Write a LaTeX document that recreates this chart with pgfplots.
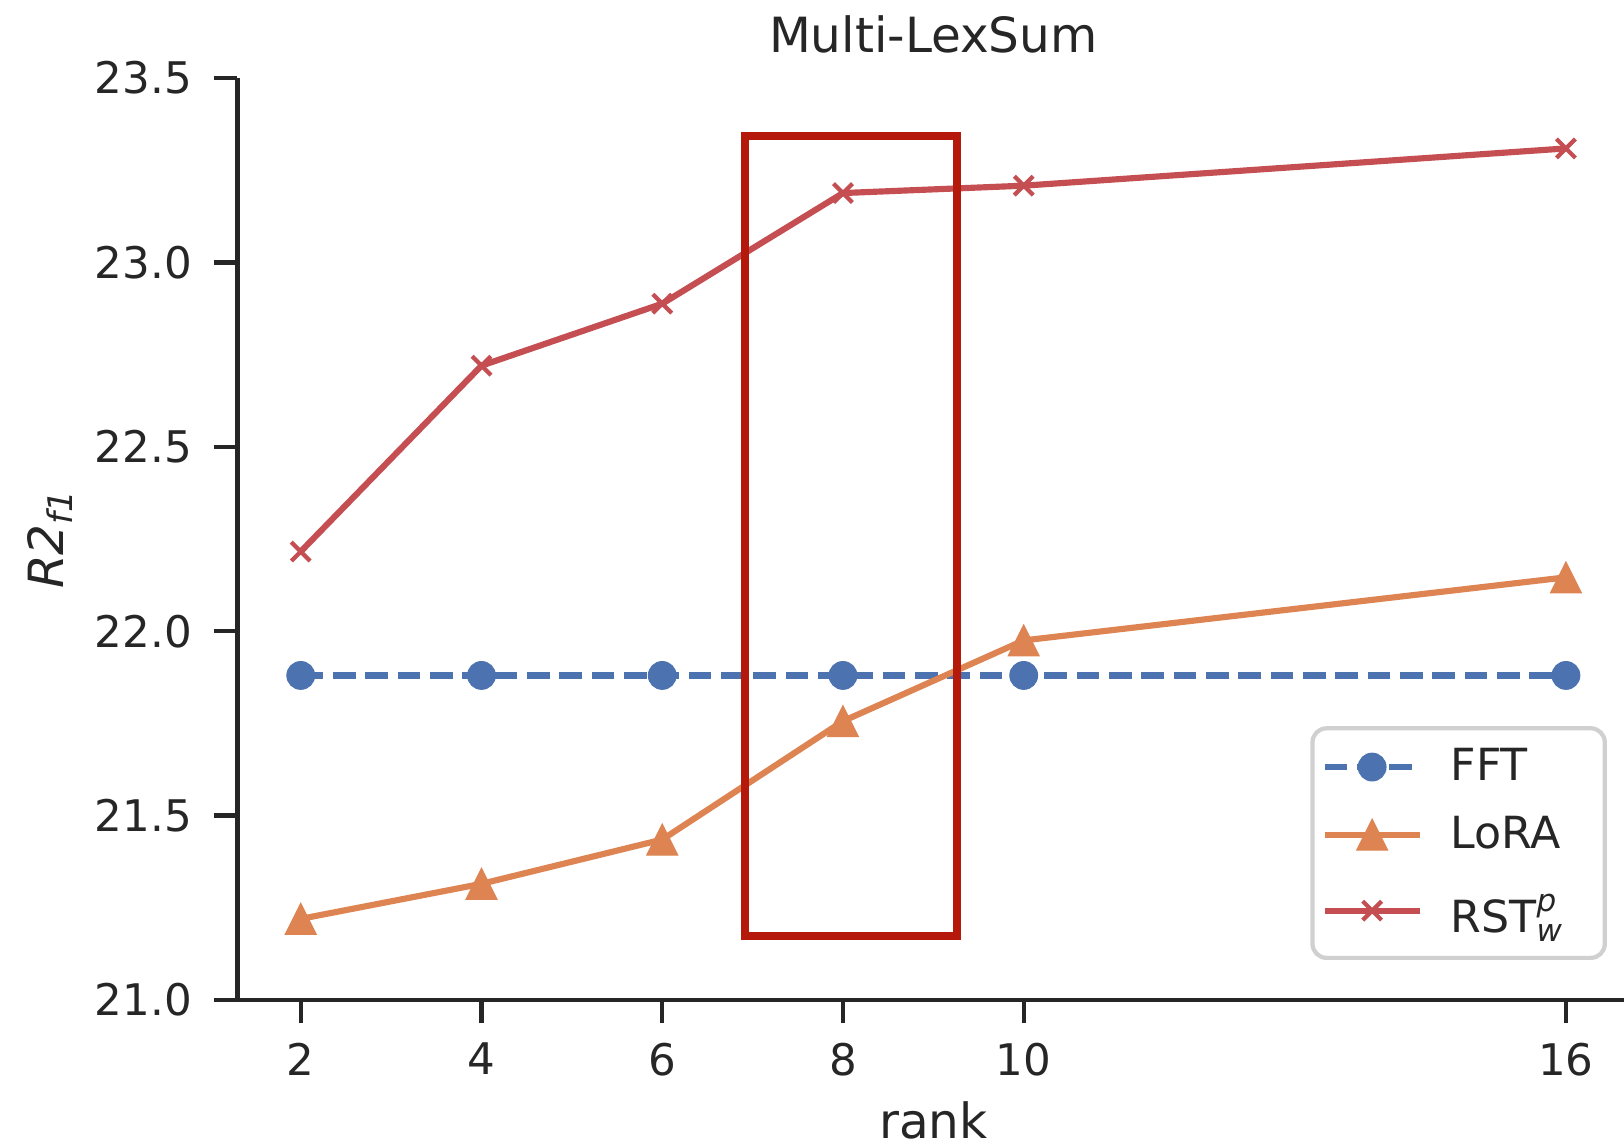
\documentclass[border=0pt]{standalone}
\usepackage{fontspec}
\setmainfont{DejaVu Sans}
\usepackage{amsmath}
\usepackage{pgfplots}
\pgfplotsset{compat=1.18}

\definecolor{sbblue}{HTML}{4C72B0}
\definecolor{sborange}{HTML}{DD8452}
\definecolor{sbred}{HTML}{C44E52}
\definecolor{boxred}{HTML}{B5190C}
\definecolor{ink}{HTML}{262626}
\definecolor{legframe}{HTML}{D0D0D0}

% upward triangle as wide as it is tall
\pgfdeclareplotmark{uptri}{%
  \pgfpathmoveto{\pgfqpoint{0pt}{\pgfplotmarksize}}%
  \pgfpathlineto{\pgfqpoint{-\pgfplotmarksize}{-\pgfplotmarksize}}%
  \pgfpathlineto{\pgfqpoint{\pgfplotmarksize}{-\pgfplotmarksize}}%
  \pgfpathclose
  \pgfusepathqfillstroke
}

\pgfplotsset{
  wide legend/.style={
    legend image code/.code={
      \draw[mark repeat=2, mark phase=2]
        plot coordinates {(0cm,0cm) (0.475cm,0cm) (0.95cm,0cm)};
    }
  }
}

\begin{document}
\begin{tikzpicture}
\begin{axis}[
  scale only axis,
  width=13.917cm, height=9.22cm,
  xmin=1.3, xmax=16.7, ymin=21, ymax=23.5,
  axis lines=left,
  axis line style={-, line width=1.25pt, color=ink},
  xtick={2,4,6,8,10,16},
  ytick={21,21.5,22,22.5,23,23.5},
  yticklabel style={/pgf/number format/fixed, /pgf/number format/fixed zerofill,
                    /pgf/number format/precision=1},
  /pgf/number format/assume math mode=true,
  tick align=outside,
  major tick length=0.235cm,
  minor tick num=0,
  tick style={line width=1.25pt, color=ink},
  tick label style={font=\fontsize{12.4}{15}\selectfont, text=ink},
  xticklabel style={inner sep=0pt, anchor=north, yshift=-0.185cm},
  yticklabel style={inner sep=0pt, anchor=east, xshift=-0.215cm},
  title={Multi-LexSum},
  title style={at={(axis description cs:0.5,1)}, anchor=base, yshift=0.04cm,
               font=\fontsize{13.8}{16}\selectfont, text=ink, inner sep=0pt},
  xlabel={rank},
  xlabel style={at={(axis description cs:0.5,0)}, anchor=base, yshift=-1.39cm,
                font=\fontsize{13.8}{16}\selectfont, text=ink, inner sep=0pt},
  ylabel={\textit{R2}$_{\textit{f1}}$},
  ylabel style={at={(axis description cs:-0.1248,0.5)}, anchor=base,
                font=\fontsize{13.8}{16}\selectfont, text=ink, inner sep=0pt},
  legend style={at={(axis description cs:0.984,0.0434)}, anchor=south east,
                draw=legframe, line width=1.2pt, rounded corners=4pt, fill=white,
                font=\fontsize{12.6}{15}\selectfont, text=ink,
                inner xsep=0.09cm, inner ysep=0.12cm,
                row sep=0.14cm, column sep=0.2cm,
                nodes={inner sep=0.08cm}},
  legend cell align=left,
  clip=false,
]

% full fine-tuning baseline
\addplot[wide legend, sbblue, line width=1.8pt, dash pattern=on 6.4pt off 2.8pt,
         mark=*, mark size=3.95pt, mark options={solid, fill=sbblue, draw=sbblue, line width=0.3pt}]
  coordinates {(2,21.88) (4,21.88) (6,21.88) (8,21.88) (10,21.88) (16,21.88)};
\addlegendentry{\makebox[1.37cm][l]{FFT}}

% LoRA
\addplot[wide legend, sborange, line width=1.75pt,
         mark=uptri, mark size=4.4pt, mark options={solid, fill=sborange, draw=sborange, line width=0.3pt}]
  coordinates {(2,21.22) (4,21.315) (6,21.435) (8,21.756) (10,21.975) (16,22.146)};
\addlegendentry{\makebox[1.37cm][l]{LoRA}}

% RST
\addplot[wide legend, sbred, line width=1.75pt,
         mark=x, mark size=3.8pt, mark options={solid, line width=1.2pt}]
  coordinates {(2,22.216) (4,22.72) (6,22.888) (8,23.188) (10,23.208) (16,23.309)};
\addlegendentry{\makebox[1.37cm][l]{\rule{0pt}{14pt}RST$^{\text{\itshape p}}_{\text{\itshape w}}$}}

% highlighted rank range
\draw[boxred, line width=2.2pt] (axis cs:6.915,21.174) rectangle (axis cs:9.263,23.342);
\end{axis}
\pgfresetboundingbox
\path (-2.375cm,-1.46cm) rectangle (13.865cm,10.0cm);
\end{tikzpicture}
\end{document}
